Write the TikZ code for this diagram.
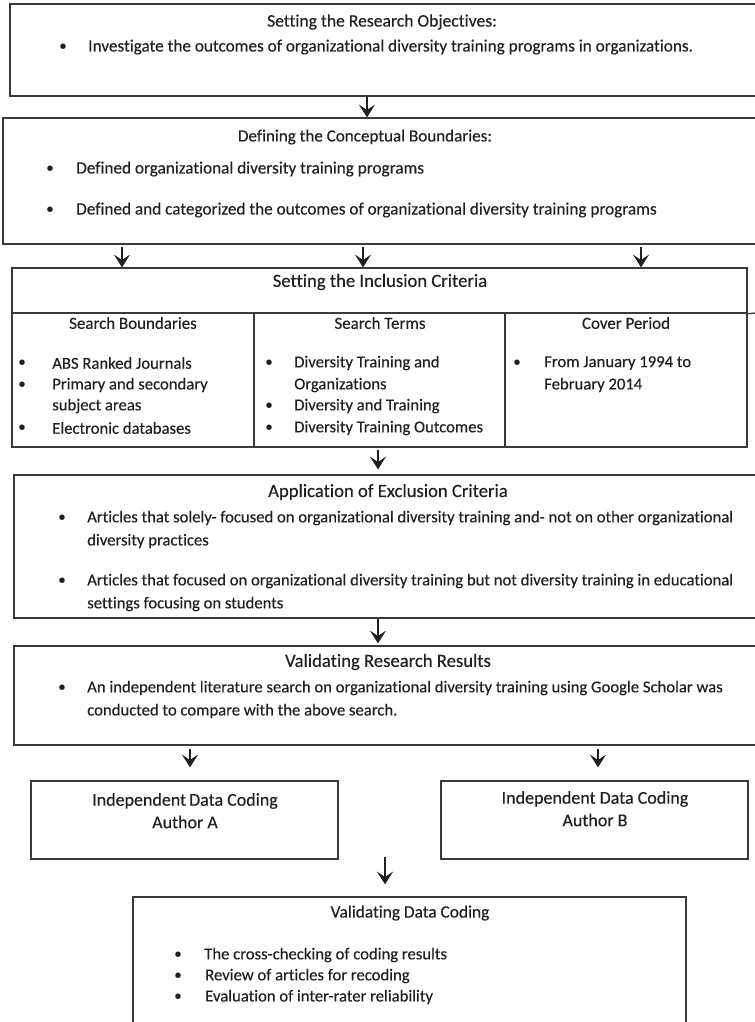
\documentclass[tikz,border=0pt]{standalone}
\usepackage{fontspec}
\setmainfont{Carlito}[Ligatures=NoCommon, FakeBold=0.25]
\usetikzlibrary{fit,arrows.meta}
\definecolor{ink}{HTML}{231F20}
\definecolor{edge}{HTML}{3A3A3A}
\begin{document}
\begin{tikzpicture}[x=0.75pt,y=-0.75pt,
  box/.style={draw=edge, line width=1pt, inner sep=0pt},
  arr/.style={draw=ink, line width=2pt, -{Stealth[length=9.5pt,width=12pt,inset=4pt]}},
  ttl/.style={font=\fontsize{14}{16}\selectfont, text=ink, inner sep=0pt},
  hd/.style={font=\fontsize{12.7}{15}\selectfont, text=ink, inner sep=0pt},
  txt/.style={font=\fontsize{12.5}{15}\selectfont, text=ink, inner sep=0pt, anchor=west},
  big/.style={font=\fontsize{12.9}{15}\selectfont, text=ink, inner sep=0pt, anchor=west},
  dot/.style={font=\fontsize{11}{13}\selectfont, text=ink, inner sep=0pt}]
\clip (0,0) rectangle (755,1022);
\useasboundingbox (0,0) rectangle (755,1022);
\fill[white] (0,0) rectangle (755,1022);

% Box 1
\node[box, fit={(10,4) (756,96)}] (b1) {};
\node[ttl, font=\fontsize{13.2}{15}\selectfont] (b1t) at (382,22) {Setting the Research Objectives:};
\node[dot] (b1d) at (63,47) {•};
\node[big] (b1l) at (88,47) {Investigate the outcomes of organizational diversity training programs in organizations.};

% Box 2
\node[box, fit={(3,118) (756,244)}] (b2) {};
\node[ttl, font=\fontsize{12.8}{15}\selectfont] (b2t) at (365,137) {Defining the Conceptual Boundaries:};
\node[dot] (b2d1) at (50,169) {•};
\node[big] (b2l1) at (76,169) {Defined organizational diversity training programs};
\node[dot] (b2d2) at (50,210) {•};
\node[big] (b2l2) at (76,210) {Defined and categorized the outcomes of organizational diversity training programs};

% Inclusion table
\node[box, fit={(12,268) (747,313)}] (inc) {};
\node[box, fit={(12,313) (254,447)}] (c1) {};
\node[box, fit={(254,313) (505,447)}] (c2) {};
\node[box, fit={(505,313) (747,447)}] (c3) {};
\coordinate (ext) at (756,313);
\draw[draw=edge, line width=1pt] (inc.south east) -- (ext);
\node[ttl] (inct) at (380,282) {Setting the Inclusion Criteria};
\node[hd] (c1t) at (133,323) {Search Boundaries};
\node[hd] (c2t) at (380,323) {Search Terms};
\node[hd] (c3t) at (626,323) {Cover Period};
\node[dot] (c1d1) at (22,363) {•};
\node[txt] (c1l1) at (52,363) {ABS Ranked Journals};
\node[dot] (c1d2) at (22,385) {•};
\node[txt] (c1l2) at (52,385) {Primary and secondary};
\node[txt] (c1l3) at (52,406) {subject areas};
\node[dot] (c1d3) at (22,428) {•};
\node[txt] (c1l4) at (52,428) {Electronic databases};
\node[dot] (c2d1) at (269,363) {•};
\node[txt] (c2l1) at (294,363) {Diversity Training and};
\node[txt] (c2l2) at (294,385) {Organizations};
\node[dot] (c2d2) at (269,406) {•};
\node[txt] (c2l3) at (294,406) {Diversity and Training};
\node[dot] (c2d3) at (269,428) {•};
\node[txt] (c2l4) at (294,428) {Diversity Training Outcomes};
\node[dot] (c3d1) at (517,363) {•};
\node[txt] (c3l1) at (544,363) {From January 1994 to};
\node[txt] (c3l2) at (544,385) {February 2014};

% Exclusion
\node[box, fit={(14,475) (756,618)}] (exc) {};
\node[ttl] (exct) at (388,492) {Application of Exclusion Criteria};
\node[dot] (excd1) at (62,518) {•};
\node[txt] (excl1) at (87,518) {Articles that solely- focused on organizational diversity training and- not on other organizational};
\node[txt] (excl2) at (87,541) {diversity practices};
\node[dot] (excd2) at (62,581) {•};
\node[txt] (excl3) at (87,581) {Articles that focused on organizational diversity training but not diversity training in educational};
\node[txt] (excl4) at (87,604) {settings focusing on students};

% Validating research results
\node[box, fit={(14,646) (756,745)}] (vrr) {};
\node[ttl] (vrrt) at (388,662) {Validating Research Results};
\node[dot] (vrrd) at (62,688) {•};
\node[txt] (vrrl1) at (87,688) {An independent literature search on organizational diversity training using Google Scholar was};
\node[txt] (vrrl2) at (87,711) {conducted to compare with the above search.};

% Author boxes
\node[box, fit={(31,781) (338,859)}] (ua) {};
\node[ttl, font=\fontsize{13.5}{15}\selectfont] (uat) at (185,801) {Independent\,Data Coding};
\node[ttl, font=\fontsize{13.5}{15}\selectfont] (uan) at (185,822) {Author A};
\node[box, fit={(441,781) (748,859)}] (ub) {};
\node[ttl, font=\fontsize{13.5}{15}\selectfont] (ubt) at (595,799) {Independent Data Coding};
\node[ttl, font=\fontsize{13.5}{15}\selectfont] (ubn) at (595,820) {Author B};

% Validating data coding
\node[box, fit={(133,897) (686,1040)}] (vdc) {};
\node[ttl, font=\fontsize{13}{15}\selectfont] (vdct) at (410,913) {Validating Data Coding};
\node[dot] (vdcd1) at (178,955) {•};
\node[txt] (vdcl1) at (204,955) {The cross-checking of coding results};
\node[dot] (vdcd2) at (178,976) {•};
\node[txt] (vdcl2) at (205,976) {Review of articles for recoding};
\node[dot] (vdcd3) at (178,997) {•};
\node[txt] (vdcl3) at (205,997) {Evaluation of inter-rater reliability};

% Arrows
\coordinate (xa) at (367,0);
\coordinate (xb) at (122,0);
\coordinate (xc) at (363,0);
\coordinate (xd) at (641,0);
\coordinate (xe) at (378,0);
\coordinate (xf) at (190,0);
\coordinate (xg) at (598,0);
\coordinate (m) at (385,857);
\draw[arr] (b1.south -| xa) -- (b2.north -| xa);
\draw[arr, shorten <=1.5pt] (b2.south -| xb) -- (inc.north -| xb);
\draw[arr, shorten <=1.5pt] (b2.south -| xc) -- (inc.north -| xc);
\draw[arr, shorten <=1.5pt] (b2.south -| xd) -- (inc.north -| xd);
\draw[arr, shorten <=1.5pt, shorten >=3.75pt] (c2.south -| xe) -- (exc.north -| xe);
\draw[arr, shorten >=1.5pt] (exc.south -| xe) -- (vrr.north -| xe);
\draw[arr, shorten <=2.25pt, shorten >=9.75pt] (vrr.south -| xf) -- (ua.north -| xf);
\draw[arr, shorten <=2.25pt, shorten >=9.75pt] (vrr.south -| xg) -- (ub.north -| xg);
\draw[arr, shorten >=9pt] (m) -- (vdc.north -| m);
\end{tikzpicture}
\end{document}
